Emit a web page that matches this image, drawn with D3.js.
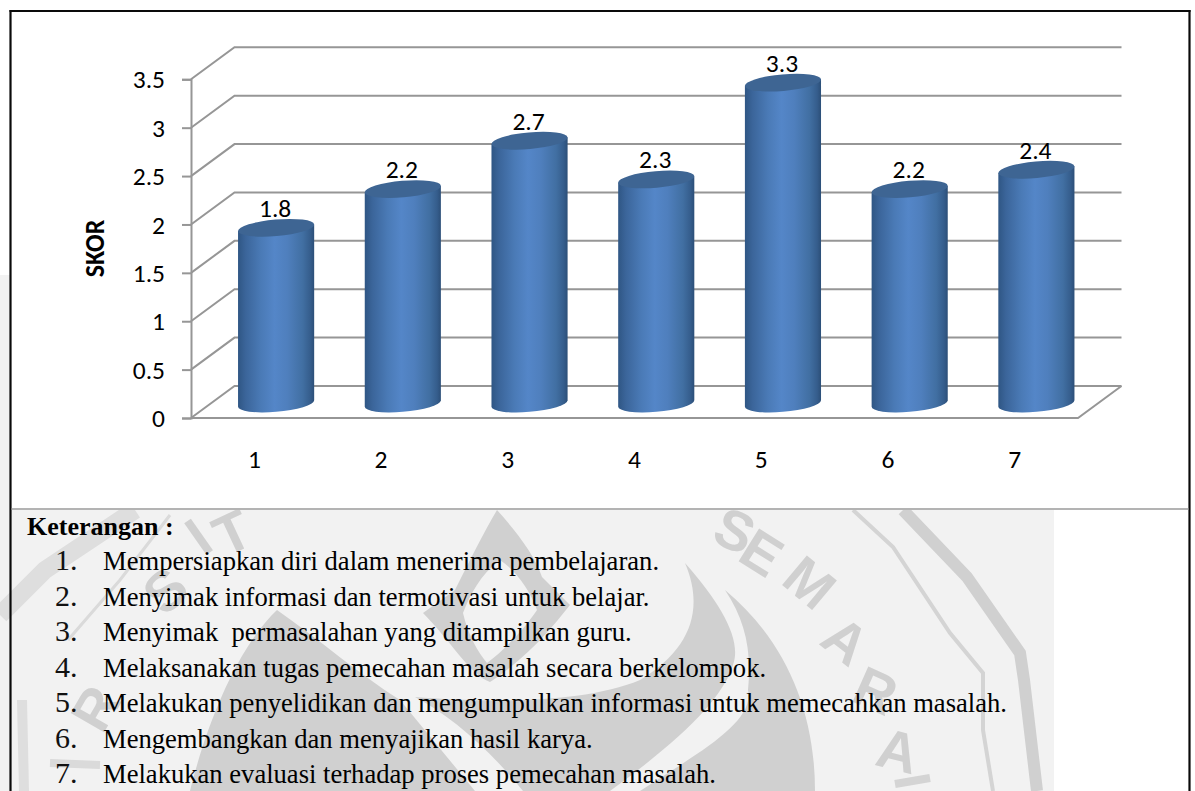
<!DOCTYPE html>
<html>
<head>
<meta charset="utf-8">
<style>
  html, body { margin: 0; padding: 0; background: #fff; }
  svg { display: block; }
</style>
<script src="https://cdn.jsdelivr.net/npm/d3@7"></script>
</head>
<body>
<svg id="chart" width="1195" height="791"></svg>
<script>
// Scores per learning step
const categories = ["1", "2", "3", "4", "5", "6", "7"];
const scores = [1.8, 2.2, 2.7, 2.3, 3.3, 2.2, 2.4];
const yTicks = [0, 0.5, 1, 1.5, 2, 2.5, 3, 3.5];
const yTitle = "SKOR";
const legendTitle = "Keterangan :";
const legendItems = [
  "Mempersiapkan diri dalam menerima pembelajaran.",
  "Menyimak informasi dan termotivasi untuk belajar.",
  "Menyimak\u00a0 permasalahan yang ditampilkan guru.",
  "Melaksanakan tugas pemecahan masalah secara berkelompok.",
  "Melakukan penyelidikan dan mengumpulkan informasi untuk memecahkan masalah.",
  "Mengembangkan dan menyajikan hasil karya.",
  "Melakukan evaluasi terhadap proses pemecahan masalah."
];

// Emblem lettering behind the notes: [glyph, x, y, rotation]
const sealLetters = [
  ["R", 95, 708, -60], ["S", 165, 590, -42], ["I", 198, 536, -35], ["T", 232, 532, -25],
  ["S", 735, 530, 24], ["E", 762, 552, 32], ["M", 810, 582, 40],
  ["A", 846, 640, 38], ["R", 876, 690, 24], ["A", 898, 750, 14]
];
// Emblem outlines behind the notes
const sealFills = [
  "M277,610 C320,640 360,675 400,700 L475,791 L190,791 C205,730 235,650 277,610 Z",
  "M685,563 C722,605 742,640 733,665 C722,700 680,740 610,791 L523,791 C490,750 450,715 415,697 C480,702 580,705 640,680 C690,650 705,610 685,563 Z",
  "M725,590 C785,640 815,710 815,791 L640,791 C700,752 755,722 748,690 C752,650 745,620 725,590 Z",
  "M497,510 C515,530 535,555 542,577 L570,605 C550,630 530,655 490,682 C470,675 450,640 423,613 L455,590 C470,560 485,530 497,510 Z M500,560 C480,575 470,595 463,613 C468,635 478,652 487,663 C505,650 525,628 537,610 C530,590 515,570 500,560 Z"
];
const sealLines = [
  { d: "M903,510 L967,577 L1020,653 L1024,680 L1037,791", w: 12, c: "#d0d0d0" },
  { d: "M853,510 L893,547 L950,633 L983,673 L983,730 L993,791", w: 4, c: "#d4d4d4" },
  { d: "M0,615 L45,570 L135,510", w: 18, c: "#dedede" },
  { d: "M68,640 L120,580 L170,515", w: 3, c: "#dadada" },
  { d: "M22,700 L24,791", w: 10, c: "#dedede" },
  { d: "M50,763 L100,765", w: 8, c: "#dadada" },
  { d: "M895,784 L930,778", w: 8, c: "#d4d4d4" }
];

const svg = d3.select("#chart");
const defs = svg.append("defs");

// Layout of the 3D plot box
const floorLeft = 191, floorRight = 1078, floorY = 418, topY = 79.3;
const depthX = 43.5, depthY = 32;

const x = d3.scaleBand().domain(categories).range([floorLeft, floorRight]);
const y = d3.scaleLinear().domain([0, 3.5]).range([floorY, topY]);

// Horizontal shading that makes the columns look round
const grad = defs.append("linearGradient").attr("id", "cyl");
[[0, "#2f5684"], [0.1, "#3b659a"], [0.3, "#4a7ab6"], [0.48, "#5486c8"],
 [0.65, "#4f7fbd"], [0.85, "#416fa2"], [0.95, "#355d8c"], [1, "#2c4f78"]]
  .forEach(([o, c]) => grad.append("stop").attr("offset", o).attr("stop-color", c));

defs.append("clipPath").attr("id", "notes-clip")
  .append("rect").attr("x", 0).attr("y", 510).attr("width", 1054).attr("height", 281);

// Page background behind the frame
svg.append("rect").attr("width", 1195).attr("height", 791).attr("fill", "#fff");
svg.append("rect").attr("x", 0).attr("y", 275).attr("width", 11).attr("height", 516).attr("fill", "#f2f2f2");
svg.append("rect").attr("x", 11).attr("y", 510).attr("width", 1043).attr("height", 281).attr("fill", "#f2f2f2");

// Emblem printed behind the notes
const seal = svg.append("g").attr("clip-path", "url(#notes-clip)");
seal.selectAll("path.fill").data(sealFills).join("path")
  .attr("class", "fill").attr("d", d => d).attr("fill", "#d0d0d0").attr("fill-rule", "evenodd");
seal.selectAll("path.line").data(sealLines).join("path")
  .attr("class", "line").attr("d", d => d.d).attr("fill", "none")
  .attr("stroke", d => d.c).attr("stroke-width", d => d.w);
seal.selectAll("text").data(sealLetters).join("text")
  .attr("transform", d => `translate(${d[1]},${d[2]}) rotate(${d[3]})`)
  .attr("text-anchor", "middle").attr("dy", "0.36em")
  .attr("font-family", "'Liberation Sans', sans-serif")
  .attr("font-weight", 700).attr("font-size", 56)
  .attr("fill", "#d0d0d0")
  .text(d => d[0]);

// Frame around the chart and notes
const frame = svg.append("g");
frame.append("line").attr("x1", 10.5).attr("x2", 10.5).attr("y1", 10).attr("y2", 791)
  .attr("stroke", "#0a0a0a").attr("stroke-width", 2.2);
frame.append("line").attr("x1", 1189.5).attr("x2", 1189.5).attr("y1", 10).attr("y2", 791)
  .attr("stroke", "#0a0a0a").attr("stroke-width", 2.2);
frame.append("line").attr("x1", 9.5).attr("x2", 1190.5).attr("y1", 11).attr("y2", 11)
  .attr("stroke", "#0a0a0a").attr("stroke-width", 2.2);
frame.append("line").attr("x1", 11.5).attr("x2", 1188.5).attr("y1", 509).attr("y2", 509)
  .attr("stroke", "#9a9a9a").attr("stroke-width", 1.6);

// Walls and floor of the plot box
const gridColor = "#969696";
const grid = svg.append("g").attr("fill", "none").attr("stroke", gridColor).attr("stroke-width", 2);
grid.selectAll("path.wall").data(yTicks).join("path")
  .attr("class", "wall")
  .attr("d", d => `M${floorLeft},${y(d)} l${depthX},${-depthY} H${floorRight + depthX}`);
grid.append("path")
  .attr("d", `M${floorLeft},${floorY} H${floorRight} l${depthX},${-depthY}`);

// Value axis
const labelFont = "Carlito, Lato, sans-serif";
const labelSize = 25.5;
const yAxis = d3.axisLeft(y).tickValues(yTicks).tickSize(9).tickPadding(17).tickFormat(d => String(d));
const yG = svg.append("g").attr("transform", `translate(${floorLeft},0)`).call(yAxis);
yG.select(".domain").attr("stroke", gridColor).attr("stroke-width", 2);
yG.selectAll(".tick line").attr("stroke", gridColor).attr("stroke-width", 2);
yG.selectAll(".tick text")
  .attr("font-family", labelFont).attr("font-size", labelSize).attr("fill", "#000")
  .attr("dy", "0.34em");

// Category axis: labels only
const xAxis = d3.axisBottom(x).tickSize(0).tickPadding(32);
const xG = svg.append("g").attr("transform", `translate(0,${floorY})`).call(xAxis);
xG.select(".domain").remove();
xG.selectAll(".tick text")
  .attr("font-family", labelFont).attr("font-size", labelSize).attr("fill", "#000");

// Rotated axis title
svg.append("text")
  .attr("transform", "translate(103.5,248.5) rotate(-90) scale(1,1.05)")
  .attr("text-anchor", "middle")
  .attr("font-family", labelFont).attr("font-weight", 700).attr("font-size", 26)
  .attr("fill", "#000").text(yTitle);

// Cylinders: each is a shaded body with a tilted ellipse on top
const rx = 38.2, ry = 8.3, tilt = -5;
const rad = tilt * Math.PI / 180;
const t0 = Math.atan(-(ry / rx) * Math.tan(rad));
const edgeX = rx * Math.cos(t0) * Math.cos(rad) - ry * Math.sin(t0) * Math.sin(rad);
const edgeY = rx * Math.cos(t0) * Math.sin(rad) + ry * Math.sin(t0) * Math.cos(rad);
const cx = c => x(c) + x.bandwidth() / 2 + depthX / 2;
const baseY = y(0) - 14.5;
const topOf = v => y(v) - 16;

const bars = svg.append("g").selectAll("g").data(categories.map((c, i) => ({ c, v: scores[i] }))).join("g");
bars.append("path")
  .attr("fill", "url(#cyl)")
  .attr("d", d => {
    const m = cx(d.c), top = topOf(d.v);
    return `M${m - edgeX},${top - edgeY} L${m - edgeX},${baseY - edgeY}` +
      ` A${rx},${ry} ${tilt} 0 0 ${m + edgeX},${baseY + edgeY}` +
      ` L${m + edgeX},${top + edgeY} Z`;
  });
bars.append("ellipse")
  .attr("rx", rx).attr("ry", ry)
  .attr("transform", d => `translate(${cx(d.c)},${topOf(d.v)}) rotate(${tilt})`)
  .attr("fill", "#3e6593");

// Value labels above the columns
bars.append("text")
  .attr("x", d => cx(d.c) - 1)
  .attr("y", d => topOf(d.v) - 11)
  .attr("text-anchor", "middle")
  .attr("font-family", labelFont).attr("font-size", labelSize).attr("fill", "#000")
  .text(d => d.v.toFixed(1));

// Notes under the chart
const serif = "'Liberation Serif', serif";
svg.append("text")
  .attr("x", 27).attr("y", 535)
  .attr("font-family", serif).attr("font-weight", 700).attr("font-size", 26).attr("fill", "#000")
  .text(legendTitle);

const rowY = d3.scalePoint().domain(d3.range(legendItems.length)).range([570, 783]);
const rows = svg.append("g").selectAll("g").data(legendItems).join("g")
  .attr("transform", (d, i) => `translate(0,${rowY(i)})`);
rows.append("text")
  .attr("x", 55).attr("font-family", serif).attr("font-size", 30).attr("fill", "#111")
  .text((d, i) => `${i + 1}.`);
rows.append("text")
  .attr("x", 103).attr("font-family", serif).attr("font-size", 26.6).attr("fill", "#000")
  .text(d => d);
</script>
</body>
</html>
